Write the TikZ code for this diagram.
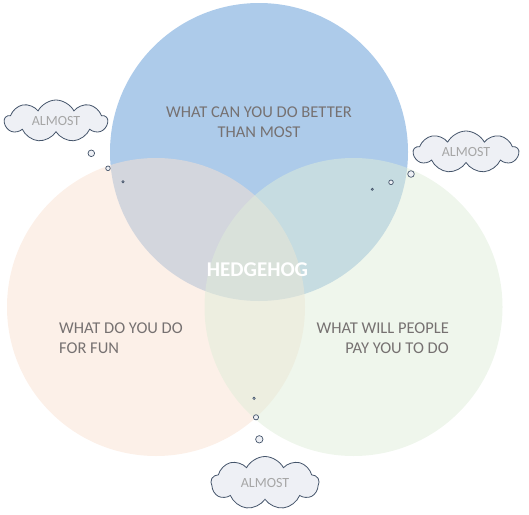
\documentclass[tikz,border=0pt]{standalone}
\usepackage{fontspec}
\setmainfont{Carlito}
\usetikzlibrary{shapes.symbols}
\definecolor{vennblue}{HTML}{ADCBEA}
\definecolor{vennpeach}{HTML}{F9E1D1}
\definecolor{venngreen}{HTML}{DFEDD9}
\definecolor{labelgrey}{HTML}{767171}
\definecolor{almostgrey}{HTML}{A6A6A6}
\definecolor{cloudline}{HTML}{44546A}
\definecolor{cloudfill}{HTML}{EEF0F5}
\tikzset{
  venn/.style={circle,minimum size=298pt,inner sep=0pt,draw=none},
  area/.style={text=labelgrey,inner sep=0pt,font=\fontsize{16.5}{20}\selectfont,align=#1},
  area/.default=center,
  almostcloud/.style={cloud,cloud puffs=9,cloud puff arc=125,cloud ignores aspect,
                      draw=cloudline,line width=0.8pt,fill=cloudfill,text=almostgrey,
                      font=\fontsize{14}{16}\selectfont,minimum width=#1,minimum height=42pt},
  almostcloud/.default=103pt,
  bubble/.style={circle,draw=cloudline,line width=0.7pt,fill=cloudfill,inner sep=0pt,minimum size=#1},
}
\begin{document}
\begin{tikzpicture}[x=1pt,y=-1pt]
  \useasboundingbox (0,0) rectangle (529,514);
  % the three circles
  \node[venn,fill=vennblue] (better) at (259,152) {};
  \node[venn,fill=vennpeach,fill opacity=0.5] (fun) at (156,307) {};
  \node[venn,fill=venngreen,fill opacity=0.5] (pay) at (353.5,307) {};
  % texts
  \node[area] (bettertxt) at (259,122.5) {WHAT CAN YOU DO BETTER\\THAN MOST};
  \node[area=left,anchor=west] (funtxt) at (59,338.5) {WHAT DO YOU DO\\FOR FUN};
  \node[area=right,anchor=east] (paytxt) at (449,338.5) {WHAT WILL PEOPLE\\PAY YOU TO DO};
  \node[text=white,inner sep=0pt,font=\fontsize{21}{24}\selectfont\bfseries] (hedgehog) at (257.5,269.5) {HEDGEHOG};
  % clouds
  \node[almostcloud] (cloudleft) at (56,121) {ALMOST};
  \node[almostcloud=105pt] (cloudright) at (466,152) {ALMOST};
  \node[almostcloud=108pt,minimum height=53pt] (cloudbottom) at (265,483) {ALMOST};
  % bubbles
  \node[bubble=6.6pt] (bl1) at (91.3,153.3) {};
  \node[bubble=4.6pt] (bl2) at (108,168.3) {};
  \node[bubble=2.2pt] (bl3) at (123,181.7) {};
  \node[bubble=6.6pt] (br1) at (411,174) {};
  \node[bubble=4.6pt] (br2) at (391,182.3) {};
  \node[bubble=2.2pt] (br3) at (372.3,189.3) {};
  \node[bubble=7.4pt] (bb1) at (259.3,439.3) {};
  \node[bubble=5.2pt] (bb2) at (256,417.3) {};
  \node[bubble=2.4pt] (bb3) at (254,398.3) {};
\end{tikzpicture}
\end{document}
